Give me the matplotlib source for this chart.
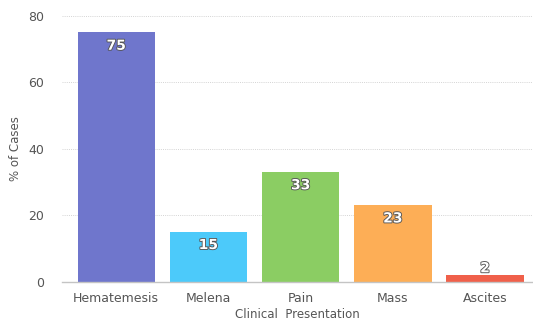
import matplotlib
matplotlib.use('Agg')
import matplotlib.pyplot as plt
import matplotlib.patheffects as pe

categories = ['Hematemesis', 'Melena', 'Pain', 'Mass', 'Ascites']
percent_cases = [75, 15, 33, 23, 2]
bar_colors = ['#6f76cc', '#4ccafa', '#8bcd63', '#fdae56', '#f0604a']
y_ticks = [0, 20, 40, 60, 80]


def main():
    fig = plt.figure(figsize=(5.33, 3.24), dpi=100)
    ax = fig.add_axes([0.116, 0.131, 0.884, 0.820])

    x = list(range(len(categories)))
    ax.bar(x, percent_cases, width=0.84, color=bar_colors, zorder=2)

    # value labels inside the top of each bar, white with a dark outline
    for xi, v in zip(x, percent_cases):
        ax.text(xi, max(v - 4, 4), str(v), ha='center', va='center',
                fontsize=10, fontweight='bold', color='white', zorder=3,
                path_effects=[pe.withStroke(linewidth=1.3, foreground='#555555')])

    ax.set_xlim(-0.59, 4.52)
    ax.set_ylim(0, 80)
    ax.set_yticks(y_ticks)
    ax.set_xticks(x)
    ax.set_xticklabels(categories)

    ax.grid(axis='y', color='#d4d4d4', linestyle=(0, (1, 1.2)), linewidth=0.7, zorder=0)
    for side in ['top', 'right', 'left']:
        ax.spines[side].set_visible(False)
    ax.spines['bottom'].set_color('#c4c4c4')
    ax.spines['bottom'].set_linewidth(1.0)
    ax.tick_params(left=False, bottom=False, colors='#555555', labelsize=9)
    ax.tick_params(axis='y', pad=9.5)
    ax.tick_params(axis='x', pad=4)

    ax.set_xlabel('Clinical  Presentation', fontsize=8.5, color='#555555', labelpad=2)
    ax.set_ylabel('% of Cases', fontsize=8.5, color='#555555', labelpad=4)

    plt.savefig('out.png', dpi=100)
    plt.close(fig)


main()
